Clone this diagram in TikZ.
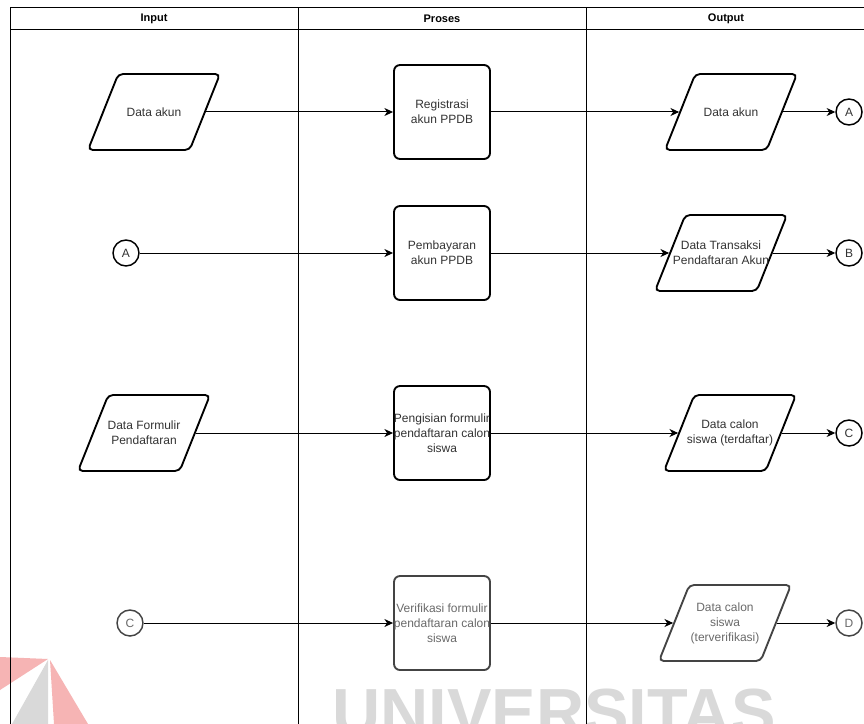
\documentclass[tikz,border=0pt]{standalone}
\usepackage{fontspec}
\setmainfont{Liberation Sans}
\usetikzlibrary{shapes.geometric,arrows.meta}

\definecolor{txtdark}{HTML}{333333}
\definecolor{txtfade}{HTML}{6A6A6A}
\definecolor{edgefade}{HTML}{444444}
\definecolor{wmgray}{HTML}{D9D9D9}
\definecolor{wmpink}{HTML}{F6B4B4}

\begin{document}
\begin{tikzpicture}[x=0.75pt,y=-0.75pt,
  lane/.style={draw=black,line width=0.75pt},
  hdr/.style={font=\bfseries\fontsize{8.25pt}{10pt}\selectfont,text=black,inner sep=0pt},
  procbox/.style={rectangle,draw=black,line width=1.4pt,rounded corners=4.5pt,
    minimum width=72pt,minimum height=70.5pt,inner sep=0pt},
  iobox/.style={trapezium,trapezium left angle=67,trapezium right angle=113,
    trapezium stretches=true,minimum width=99pt,minimum height=57pt,
    draw=black,line width=1.4pt,rounded corners=3.5pt,inner sep=1pt},
  txt/.style={font=\fontsize{9pt}{11.2pt}\selectfont,text=txtdark,align=center,inner sep=0pt},
  conn/.style={circle,draw=black,line width=1.1pt,minimum size=19.5pt,inner sep=0pt,
    font=\fontsize{9pt}{11pt}\selectfont,text=txtdark},
  flow/.style={-{Stealth[length=6.5pt,width=6pt,inset=2pt]},line width=0.75pt},
  faded/.style={draw=edgefade,text=txtfade}
]
\clip (0,0) rectangle (864,724);
\useasboundingbox (0,0) rectangle (864,724);
\fill[white] (0,0) rectangle (864,724);

% watermark behind the chart
\fill[wmpink] (0,657) -- (48,659) -- (0,690) -- cycle;
\fill[wmgray] (48,660) -- (12,724) -- (48,724) -- cycle;
\fill[wmpink] (50,660) -- (88,724) -- (54,724) -- cycle;
\node[anchor=base west,inner sep=0pt,text=wmgray,
  font=\bfseries\fontsize{50pt}{50pt}\selectfont] (wm) at (332,735) {UNIVERSITAS};

% swimlanes
\draw[lane] (10,724) -- (10,8) -- (866,8);
\draw[lane] (10,30) -- (866,30);
\draw[lane] (298,8) -- (298,724);
\draw[lane] (586,8) -- (586,724);
\node[hdr] (hin)  at (154,19) {Input};
\node[hdr] (hpro) at (442,19) {Proses};
\node[hdr] (hout) at (726,19) {Output};

% row 1
\node[iobox] (i1) at (154,112) {};
\node[txt] (i1t) at (i1.center) {Data akun};
\node[procbox] (p1) at (442,112) {};
\node[txt] (p1t) at (p1.center) {Registrasi\\akun PPDB};
\node[iobox] (o1) at (731,112) {};
\node[txt] (o1t) at (o1.center) {Data akun};
\node[conn] (ca1) at (849,112) {A};

% row 2
\node[conn] (ca2) at (126,253) {A};
\node[procbox] (p2) at (442,253) {};
\node[txt] (p2t) at (p2.center) {Pembayaran\\akun PPDB};
\node[iobox] (o2) at (721,253) {};
\node[txt] (o2t) at (o2.center) {Data Transaksi\\Pendaftaran Akun};
\node[conn] (cb) at (849,253) {B};

% row 3
\node[iobox] (i3) at (144,433) {};
\node[txt] (i3t) at (i3.center) {Data Formulir\\Pendaftaran};
\node[procbox] (p3) at (442,433) {};
\node[txt] (p3t) at (p3.center) {Pengisian formulir\\pendaftaran calon\\siswa};
\node[iobox] (o3) at (730,433) {};
\node[txt] (o3t) at (o3.center) {Data calon\\siswa (terdaftar)};
\node[conn] (cc1) at (849,433) {C};

% row 4
\node[conn,faded] (cc2) at (130,623) {C};
\node[procbox,faded] (p4) at (442,623) {};
\node[txt,text=txtfade] (p4t) at (p4.center) {Verifikasi formulir\\pendaftaran calon\\siswa};
\node[iobox,faded] (o4) at (725,623) {};
\node[txt,text=txtfade] (o4t) at (o4.center) {Data calon\\siswa\\(terverifikasi)};
\node[conn,faded] (cd) at (849,623) {D};

% flows
\draw[flow] (i1.right side) -- (p1.west);
\draw[flow] (p1.east) -- (o1.left side);
\draw[flow] (o1.right side) -- (ca1.west);

\draw[flow] (ca2.east) -- (p2.west);
\draw[flow] (p2.east) -- (o2.left side);
\draw[flow] (o2.right side) -- (cb.west);

\draw[flow] (i3.right side) -- (p3.west);
\draw[flow] (p3.east) -- (o3.left side);
\draw[flow] (o3.right side) -- (cc1.west);

\draw[flow] (cc2.east) -- (p4.west);
\draw[flow] (p4.east) -- (o4.left side);
\draw[flow] (o4.right side) -- (cd.west);
\end{tikzpicture}
\end{document}
